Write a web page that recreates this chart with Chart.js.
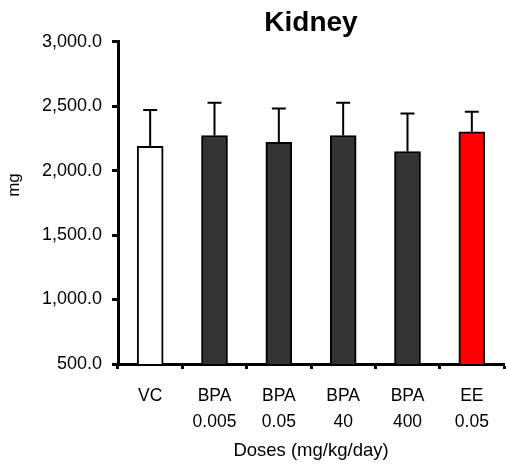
<!DOCTYPE html>
<html>
<head>
<meta charset="utf-8">
<script src="https://cdn.jsdelivr.net/npm/chart.js@4"></script>
<style>
  html, body { margin: 0; padding: 0; background: #fff; }
  #wrap { width: 506px; height: 465px; }
</style>
</head>
<body>
<div id="wrap"><canvas id="kidney"></canvas></div>
<script>
const groups = [['VC'], ['BPA', '0.005'], ['BPA', '0.05'], ['BPA', '40'], ['BPA', '400'], ['EE', '0.05']];
const means = [2187, 2272, 2218, 2272, 2148, 2301];
const sems = [283, 254, 264, 254, 295, 156];
const barColors = ['#ffffff', '#333333', '#333333', '#333333', '#333333', '#ff0000'];
const yTicks = [500, 1000, 1500, 2000, 2500, 3000];

Chart.defaults.font.family = '"Liberation Sans", Arial, sans-serif';
Chart.defaults.color = '#000';

// upper whiskers only
const errorBars = {
    id: 'errorBars',
    afterDatasetsDraw(chart) {
        const ctx = chart.ctx;
        const y = chart.scales.y;
        const meta = chart.getDatasetMeta(0);
        ctx.save();
        ctx.strokeStyle = '#000';
        ctx.lineWidth = 2;
        meta.data.forEach((bar, i) => {
            const top = y.getPixelForValue(means[i] + sems[i]);
            ctx.beginPath();
            ctx.moveTo(bar.x, bar.y);
            ctx.lineTo(bar.x, top);
            ctx.moveTo(bar.x - 7, top);
            ctx.lineTo(bar.x + 7, top);
            ctx.stroke();
        });
        ctx.restore();
    }
};

const yTitle = {
    id: 'yTitle',
    afterDraw(chart) {
        const ctx = chart.ctx;
        ctx.save();
        ctx.translate(14, 185);
        ctx.rotate(-Math.PI / 2);
        ctx.font = '17px "Liberation Sans", Arial, sans-serif';
        ctx.fillStyle = '#000';
        ctx.textAlign = 'center';
        ctx.textBaseline = 'middle';
        ctx.fillText('mg', 0, 0);
        ctx.restore();
    }
};

new Chart(document.getElementById('kidney'), {
    type: 'bar',
    data: {
        labels: groups,
        datasets: [{
            data: means,
            backgroundColor: barColors,
            borderColor: '#000',
            borderWidth: 2,
            borderSkipped: 'bottom',
            barThickness: 26
        }]
    },
    options: {
        responsive: true,
        maintainAspectRatio: false,
        animation: false,
        layout: { padding: { left: 0, right: 2, top: 0, bottom: 0 } },
        plugins: {
            legend: { display: false },
            tooltip: { enabled: false },
            title: {
                display: true,
                text: 'Kidney',
                fullSize: false,
                font: { size: 28, weight: 'bold' },
                padding: { top: 6, bottom: 2 }
            }
        },
        scales: {
            x: {
                grid: { drawOnChartArea: false, drawTicks: true, tickLength: 5, tickWidth: 3, tickColor: '#000', offset: true },
                border: { display: true, color: '#000', width: 3 },
                ticks: { font: { size: 17.5, lineHeight: 1.49 }, padding: 14, maxRotation: 0, autoSkip: false },
                title: { display: true, text: 'Doses (mg/kg/day)', font: { size: 18.5 }, padding: { top: 0, bottom: 3 } },
                afterFit(scale) { scale.height = 101; }
            },
            y: {
                min: yTicks[0],
                max: yTicks[yTicks.length - 1],
                afterBuildTicks(scale) { scale.ticks = yTicks.map(v => ({ value: v })); },
                grid: { drawOnChartArea: false, drawTicks: true, tickLength: 6, tickWidth: 3, tickColor: '#000' },
                border: { display: true, color: '#000', width: 3 },
                ticks: {
                    font: { size: 18 },
                    padding: 10,
                    callback: v => v.toLocaleString('en-US', { minimumFractionDigits: 1, maximumFractionDigits: 1 })
                },
                afterFit(scale) { scale.width = 118; }
            }
        }
    },
    plugins: [errorBars, yTitle]
});
</script>
</body>
</html>
